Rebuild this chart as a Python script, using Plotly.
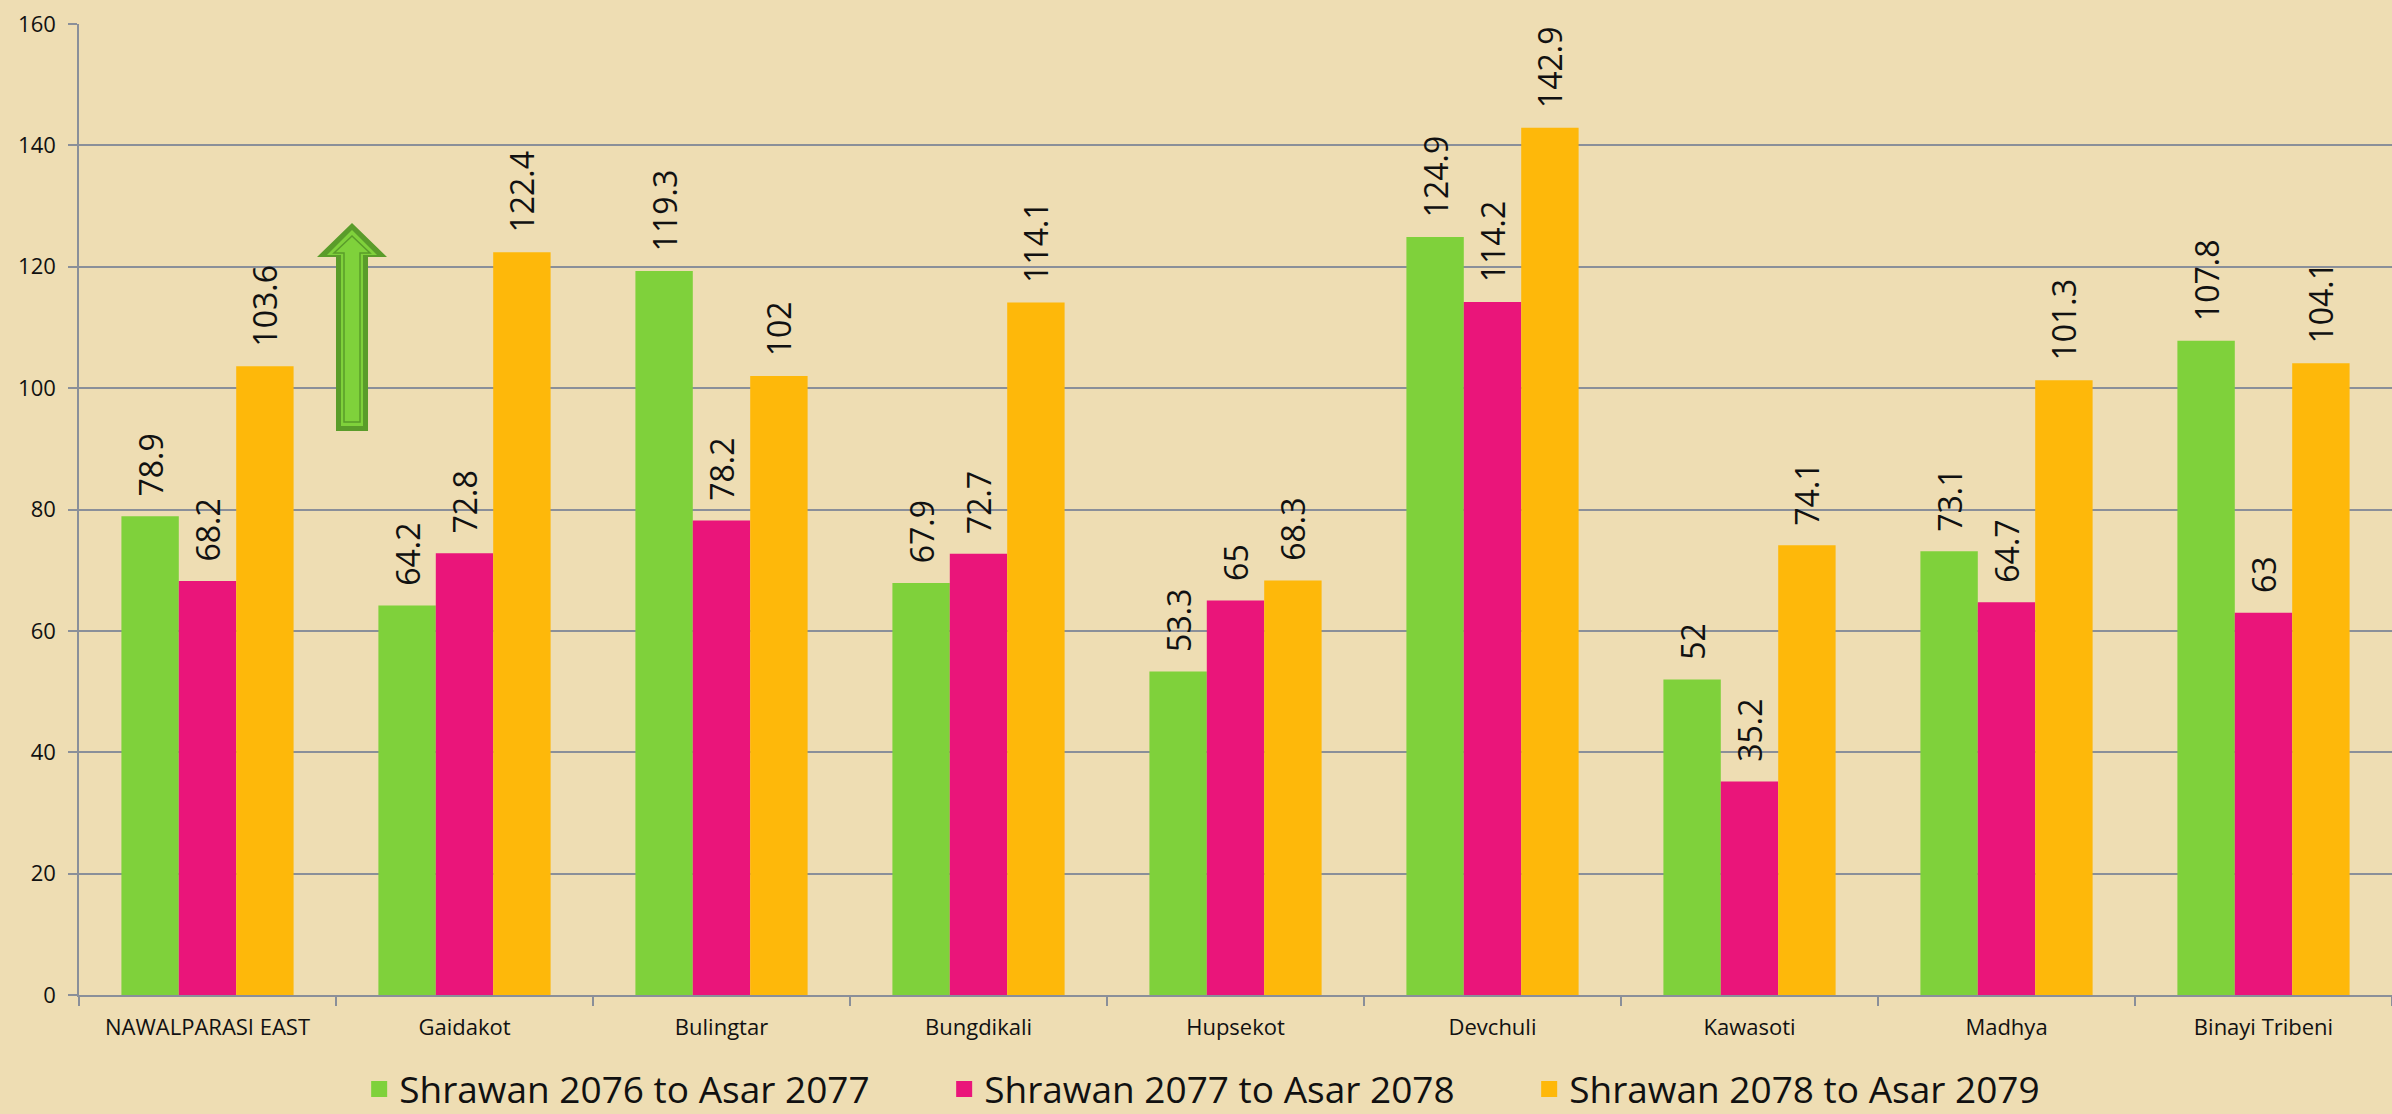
import plotly.graph_objects as go

categories = ["NAWALPARASI EAST", "Gaidakot", "Bulingtar", "Bungdikali", "Hupsekot",
              "Devchuli", "Kawasoti", "Madhya", "Binayi Tribeni"]
series_names = ["Shrawan 2076 to Asar 2077", "Shrawan 2077 to Asar 2078", "Shrawan 2078 to Asar 2079"]
s2076 = [78.9, 64.2, 119.3, 67.9, 53.3, 124.9, 52, 73.1, 107.8]
s2077 = [68.2, 72.8, 78.2, 72.7, 65, 114.2, 35.2, 64.7, 63]
s2078 = [103.6, 122.4, 102, 114.1, 68.3, 142.9, 74.1, 101.3, 104.1]
y_ticks = [0, 20, 40, 60, 80, 100, 120, 140, 160]

colors = ["#7FD13B", "#EA157A", "#FEB80A"]
W, H = 2392, 1114
ML, MR, MT, MB = 79, 0, 24, 119
PW, PH = W - ML - MR, H - MT - MB
BG = "#EEDDB3"
AX = "#8A8F99"

fig = go.Figure()
for name, vals, col in zip(series_names, [s2076, s2077, s2078], colors):
    fig.add_trace(go.Bar(
        x=categories, y=vals, name=name, marker=dict(color=col, line=dict(width=0)),
        text=vals, texttemplate="\u00a0\u00a0%{y}", textposition="outside", textangle=-90,
        textfont=dict(family="Open Sans", size=32, color="#111111"),
        constraintext="none", cliponaxis=False, showlegend=False, legendgroup=name,
    ))
# legend entries (larger square swatches)
for name, col in zip(series_names, colors):
    fig.add_trace(go.Scatter(
        x=[None], y=[None], mode="markers", name=name, legendgroup=name,
        marker=dict(symbol="square", size=16, color=col, line=dict(width=0)),
        hoverinfo="skip",
    ))


def px2paper(pts):
    return [((x - ML) / PW, (H - MB - y) / PH) for x, y in pts]


def path(pts):
    p = px2paper(pts)
    return "M " + " L ".join(f"{x:.5f},{y:.5f}" for x, y in p) + " Z"


def arrow(cx, tip, hw, sw, base_y, bottom):
    return [(cx, tip), (cx + hw, base_y), (cx + sw, base_y), (cx + sw, bottom),
            (cx - sw, bottom), (cx - sw, base_y), (cx - hw, base_y)]


cx = 352
shapes = [
    dict(type="path", xref="paper", yref="paper", path=path(arrow(cx, 223, 35, 16, 257, 431)),
         fillcolor="#5A9C2A", line=dict(width=0), layer="above"),
    dict(type="path", xref="paper", yref="paper", path=path(arrow(cx, 230, 25, 11, 255, 426)),
         fillcolor="#7FD13B", line=dict(width=0), layer="above"),
    dict(type="path", xref="paper", yref="paper", path=path(arrow(cx, 236, 18, 8, 253, 422)),
         fillcolor="#7FD13B", line=dict(width=1.5, color="#5A9C2A"), layer="above"),
]

fig.update_layout(
    width=W, height=H,
    margin=dict(l=ML, r=MR, t=MT, b=MB, pad=0),
    paper_bgcolor=BG, plot_bgcolor=BG,
    barmode="group", bargap=0.33, bargroupgap=0,
    font=dict(family="Open Sans", color="#111111"),
    shapes=shapes,
    legend=dict(orientation="h", xref="container", yref="container",
                x=0.517, xanchor="center", y=0.022, yanchor="middle",
                font=dict(size=37, family="Open Sans", color="#111111"),
                bgcolor="rgba(0,0,0,0)", entrywidth=540, entrywidthmode="pixels",
                itemsizing="trace", itemclick=False),
    xaxis=dict(type="category", showgrid=False, tickson="boundaries", ticks="outside",
               ticklen=9, tickcolor=AX, tickwidth=1.5, ticklabelstandoff=12,
               showline=True, linecolor=AX, linewidth=1.5,
               tickfont=dict(size=22, family="Open Sans", color="#111111")),
    yaxis=dict(range=[0, 160], tickvals=y_ticks, showgrid=True, gridcolor=AX,
               gridwidth=1.5, ticks="outside", ticklen=9, tickcolor=AX, tickwidth=1.5,
               ticklabelstandoff=8,
               showline=True, linecolor=AX, linewidth=1.5, zeroline=False,
               tickfont=dict(size=22, family="Open Sans", color="#111111")),
)

fig.write_html("out.html", config={"displayModeBar": False},
               post_script="document.body.style.margin='0';document.body.style.overflow='hidden';")
